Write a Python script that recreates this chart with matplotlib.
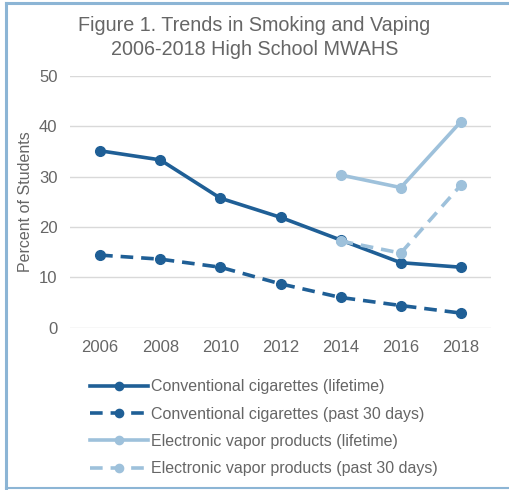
import matplotlib.pyplot as plt
from matplotlib.lines import Line2D

plt.rcParams['font.family'] = ['Liberation Sans', 'DejaVu Sans']

years = ['2006', '2008', '2010', '2012', '2014', '2016', '2018']
cig_lifetime = [35.1, 33.3, 25.7, 21.9, 17.4, 12.9, 12.0]
cig_30days = [14.4, 13.6, 12.0, 8.7, 6.0, 4.4, 2.9]
vape_years = ['2014', '2016', '2018']
vape_lifetime = [30.3, 27.8, 40.9]
vape_30days = [17.2, 14.8, 28.3]

dark = '#1F5F96'
light = '#9EC1DB'
grey = '#666666'

fig = plt.figure(figsize=(5.09, 4.9), dpi=100)
ax = fig.add_axes([70 / 509, 1 - 327.7 / 490, 421 / 509, 252 / 490])

xi = list(range(len(years)))
vx = [years.index(y) for y in vape_years]

ax.plot(xi, cig_lifetime, color=dark, lw=2.6, marker='o', ms=7,
        label='Conventional cigarettes (lifetime)')
ax.plot(xi, cig_30days, color=dark, lw=2.6, marker='o', ms=7,
        dashes=(3.5, 2.2), label='Conventional cigarettes (past 30 days)')
ax.plot(vx, vape_lifetime, color=light, lw=2.6, marker='o', ms=7,
        label='Electronic vapor products (lifetime)')
ax.plot(vx, vape_30days, color=light, lw=2.6, marker='o', ms=7,
        dashes=(3.5, 2.2), label='Electronic vapor products (past 30 days)')

ax.set_xlim(-0.5, len(years) - 0.5)
ax.set_ylim(0, 50)
ax.set_yticks(range(0, 51, 10))
ax.set_xticks(xi)
ax.set_xticklabels(years)
ax.grid(axis='y', color='#D9D9D9', lw=1)
ax.set_axisbelow(True)
for s in ax.spines.values():
    s.set_visible(False)
ax.tick_params(length=0, colors=grey, labelsize=12)
ax.tick_params(axis='x', pad=9)
ax.tick_params(axis='y', pad=9)
ax.set_ylabel('Percent of Students', color=grey, fontsize=11.5, labelpad=4)

fig.text(0.5, 1 - 37.5 / 490, 'Figure 1. Trends in Smoking and Vaping\n2006-2018 High School MWAHS',
         ha='center', va='center', fontsize=14.2, color=grey, linespacing=1.3)

handles, labels = ax.get_legend_handles_labels()
fig.legend(handles, labels, loc='upper left', bbox_to_anchor=(76 / 509, 1 - 365 / 490),
           frameon=False, fontsize=11.5, labelcolor=grey, handlelength=3.6,
           handletextpad=0.2, labelspacing=0.77, markerscale=0.85)

# light blue frame around the figure
fc = '#8CB5D5'
fig.add_artist(Line2D([6 / 509, 6 / 509], [0.004, 1 - 3 / 490], color=fc, lw=2.2))
fig.add_artist(Line2D([6 / 509, 1], [1 - 3 / 490, 1 - 3 / 490], color=fc, lw=2.2))
fig.add_artist(Line2D([6 / 509, 1], [1 - 488 / 490, 1 - 488 / 490], color=fc, lw=1.5))

fig.savefig('out.png', dpi=100)
